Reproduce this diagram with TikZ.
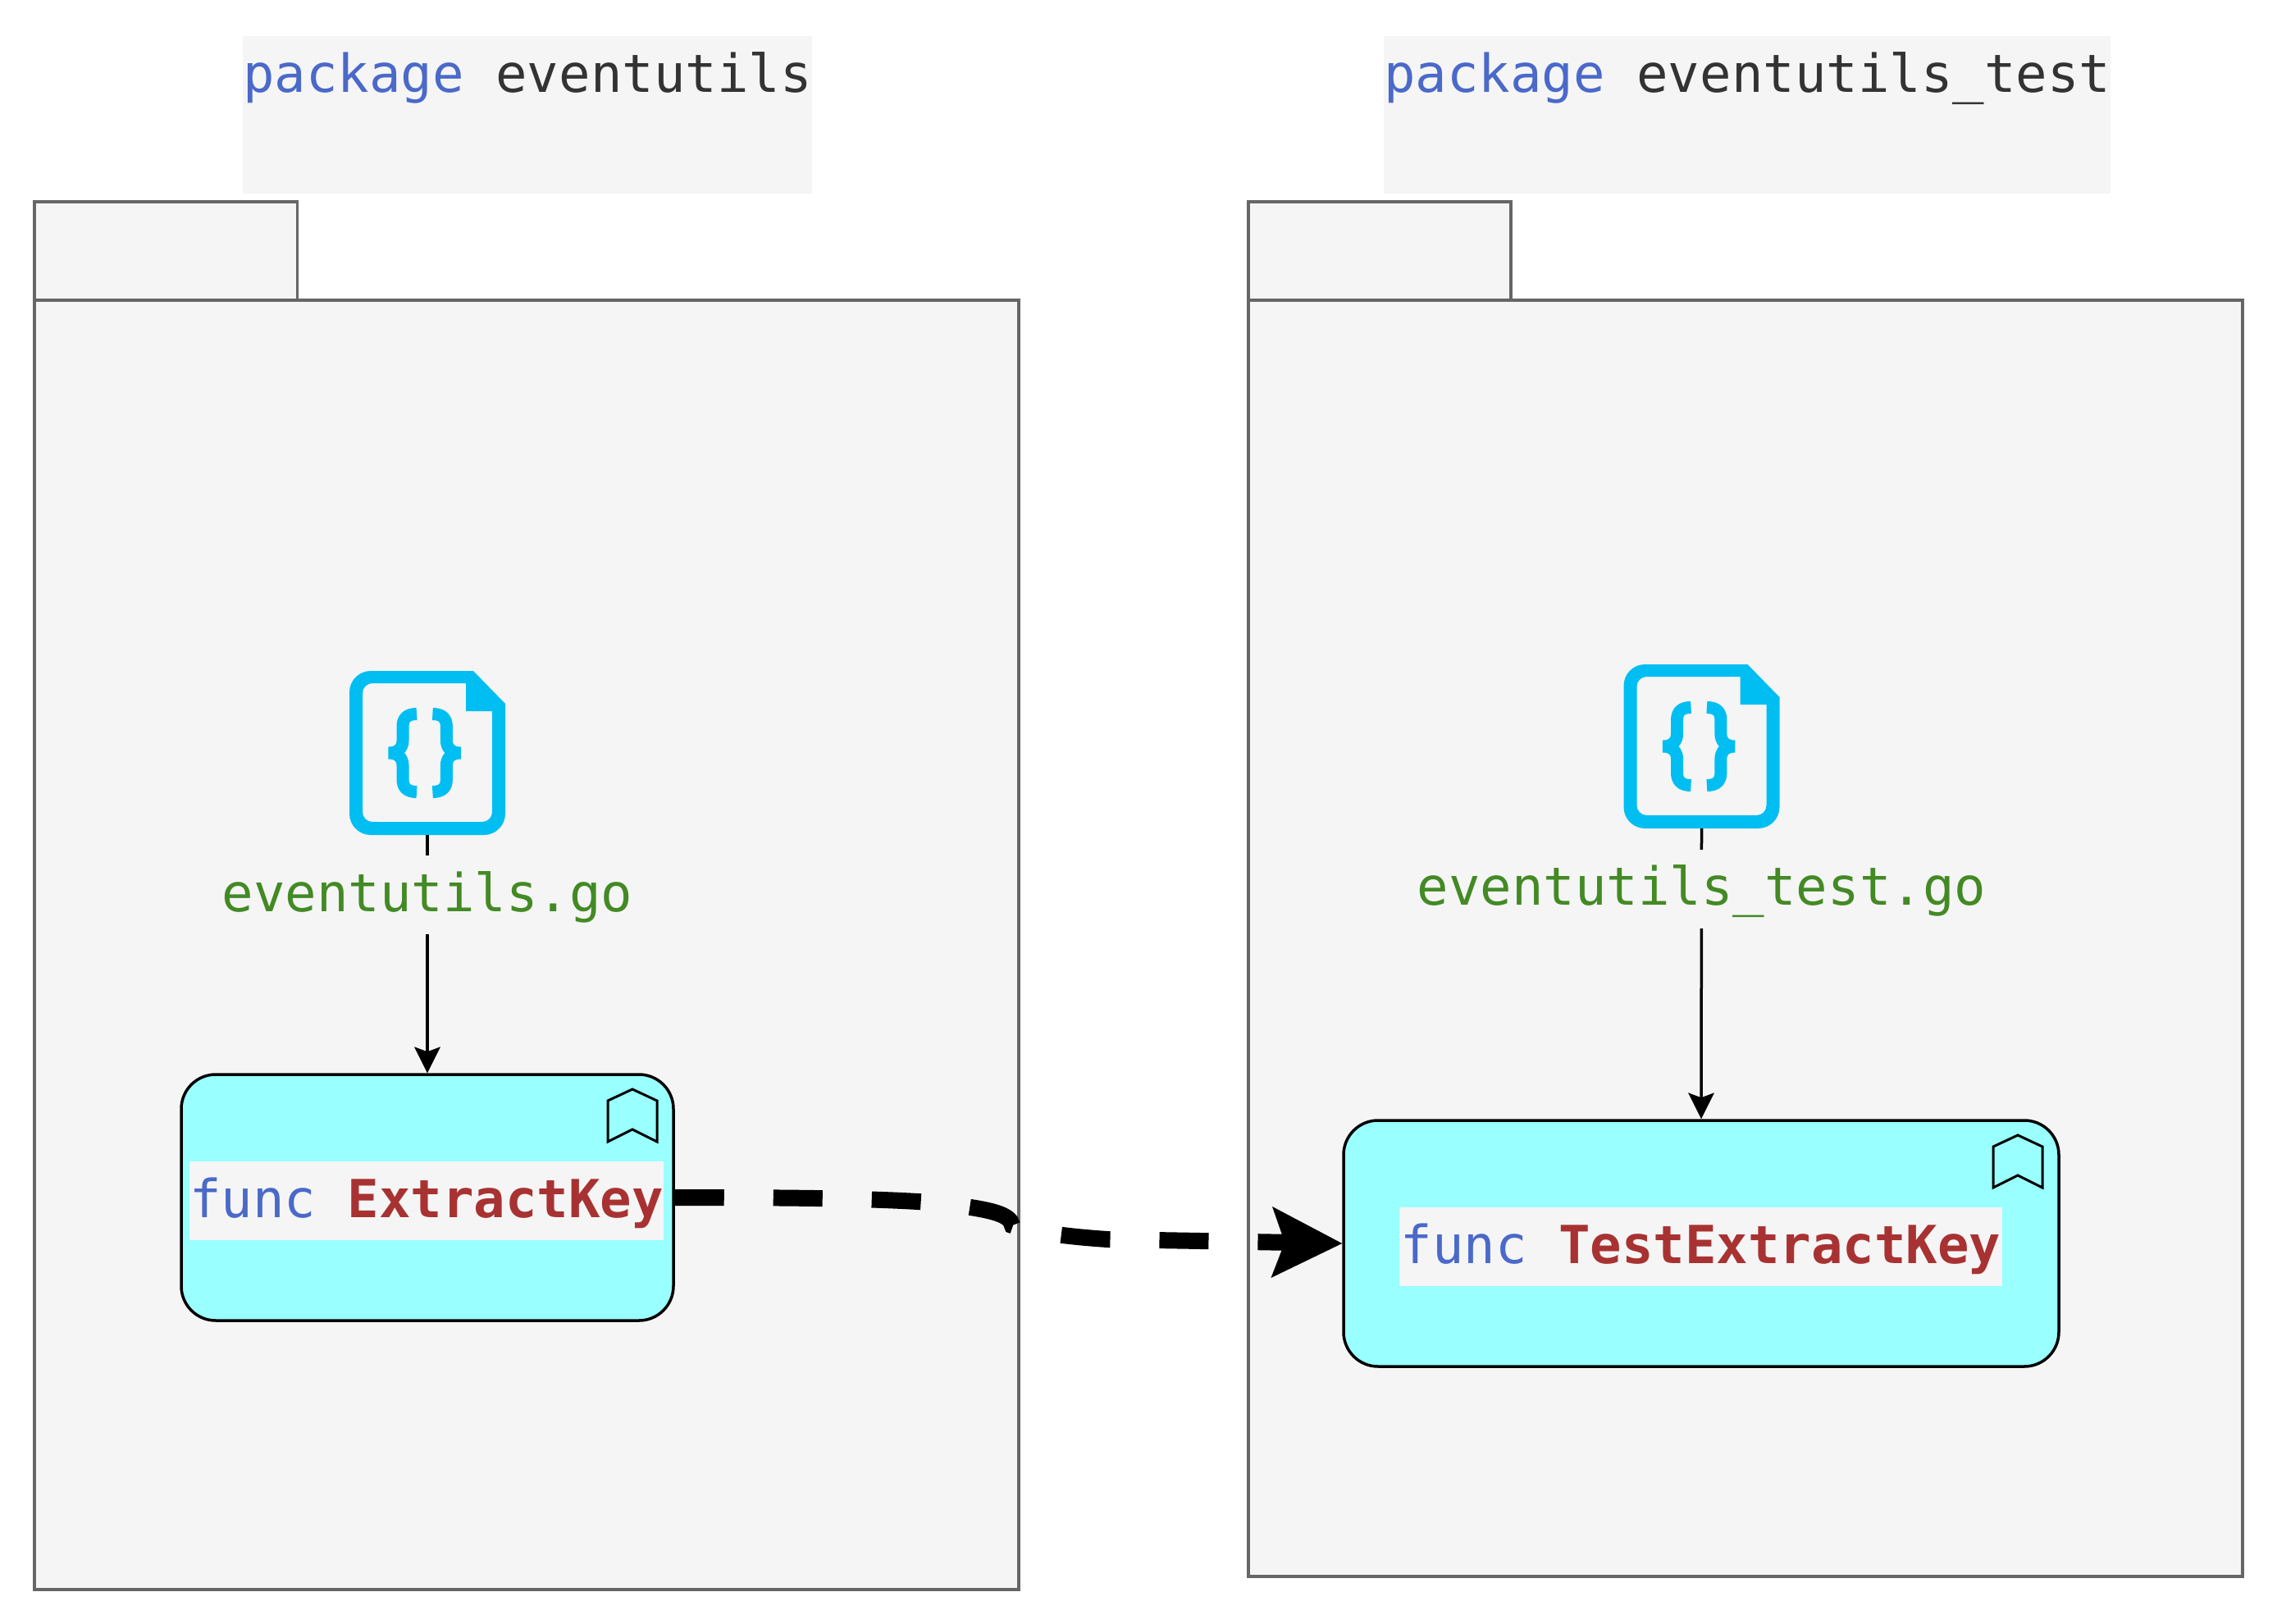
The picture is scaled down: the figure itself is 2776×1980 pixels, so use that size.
\documentclass[tikz,border=0pt]{standalone}
\usepackage{fontspec}
\setmonofont{DejaVu Sans Mono}
\usetikzlibrary{arrows.meta,positioning}
\definecolor{pkggray}{HTML}{F5F5F5}
\definecolor{pkgline}{HTML}{666666}
\definecolor{keyblue}{HTML}{4A69C9}
\definecolor{namedark}{HTML}{333333}
\definecolor{filegreen}{HTML}{438A25}
\definecolor{funcred}{HTML}{A83232}
\definecolor{iconblue}{HTML}{00BEF2}
\definecolor{funccyan}{HTML}{99FFFF}
\tikzset{
  codefont/.style={font=\fontsize{64pt}{77pt}\selectfont\ttfamily},
  pkgshape/.style={draw=pkgline,fill=pkggray,line width=3.5pt},
  pkglabel/.style={codefont,fill=pkggray,inner sep=0pt,anchor=north west,text height=68pt,text depth=124pt},
  funclabel/.style={codefont,fill=pkggray,inner sep=0pt,text height=68pt,text depth=28pt},
  filelabel/.style={codefont,text=filegreen,fill=pkggray,inner sep=0pt,text height=68pt,text depth=28pt},
  funcbox/.style={draw=black,fill=funccyan,line width=3.5pt,rounded corners=42pt},
  flowarrow/.style={line width=3.5pt,-{Stealth[length=32pt,width=32pt,inset=6pt,line width=0pt]}},
  bigdash/.style={line width=20pt,dash pattern=on 60pt off 60pt,-{Stealth[length=86pt,width=87pt,inset=16pt,line width=0pt]}},
  fileicon/.pic={
    \fill[iconblue,even odd rule] [rounded corners=26pt] (0,100) -- (0,0) [sharp corners] -- (151,0) -- (190,40) [rounded corners=26pt] -- (190,200) -- (0,200) -- cycle
      (16,100) [rounded corners=12pt] -- (16,15) [sharp corners] -- (142,15) -- (142,49) -- (174,49) [rounded corners=12pt] -- (174,184) -- (16,184) -- cycle;
    \draw[iconblue,line width=15pt,miter limit=1] (82,52.5) .. controls (70,52.5) and (65,58) .. (65,68) -- (65,85) .. controls (65,93) and (60,100) .. (48,100) .. controls (60,100) and (65,107) .. (65,115) -- (65,132) .. controls (65,142) and (70,147.5) .. (82,147.5);
    \draw[iconblue,line width=15pt,miter limit=1] (101.4,52.5) .. controls (113.4,52.5) and (118.4,58) .. (118.4,68) -- (118.4,85) .. controls (118.4,93) and (123.4,100) .. (135.4,100) .. controls (123.4,100) and (118.4,107) .. (118.4,115) -- (118.4,132) .. controls (118.4,142) and (113.4,147.5) .. (101.4,147.5);
  },
  bookmark/.pic={
    \draw[black,line width=3pt] (0,14) -- (30,0) -- (60,14) -- (60,64) -- (30,49) -- (0,64) -- cycle;
  }
}

\begin{document}
\begin{tikzpicture}[x=1pt,y=-1pt]
\useasboundingbox (0,0) rectangle (2776,1980);

% left package
\node[pkglabel] (pkgA) at (296,44) {\textcolor{keyblue}{package} \textcolor{namedark}{eventutils}};
\draw[pkgshape] (42,246) rectangle (362.5,366);
\draw[pkgshape] (42,366) rectangle (1242,1938);

% right package
\node[pkglabel] (pkgB) at (1687,44) {\textcolor{keyblue}{package} \textcolor{namedark}{eventutils\_test}};
\draw[pkgshape] (1522,246) rectangle (1842,366);
\draw[pkgshape] (1522,366) rectangle (2734,1922);

\node[funcbox,minimum width=600pt,minimum height=300pt] (fnExtract) at (521,1460) {};
\node[funcbox,minimum width=872pt,minimum height=300pt] (fnTest) at (2074,1516) {};

\pic at (426,818) {fileicon};
\pic at (1979.5,810) {fileicon};
\coordinate (iconA) at (521,1018);
\coordinate (iconB) at (2074.5,1010);

\pic at (741,1328) {bookmark};
\pic at (2430,1384) {bookmark};

\draw[flowarrow] (iconA) -- (fnExtract.north) node[filelabel,pos=0.253] (fileA) {eventutils.go};
\draw[flowarrow] (iconB) -- (fnTest.north) node[filelabel,pos=0.208] (fileB) {eventutils\_test.go};

\node[funclabel,minimum width=576pt] (keyA) at (520,1464) {\textcolor{keyblue}{func} \textcolor{funcred}{\bfseries ExtractKey}};
\node[funclabel,minimum width=735pt] (keyB) at (2073.5,1520) {\textcolor{keyblue}{func} \textcolor{funcred}{\bfseries TestExtractKey}};

\draw[bigdash] (fnExtract.east) .. controls (1000,1460) and (1120,1462) .. (1170,1470) .. controls (1205,1475) and (1232,1480) .. (1234,1494) .. controls (1250,1500) and (1290,1507) .. (1350,1511) -- (fnTest.west);
\end{tikzpicture}
\end{document}
